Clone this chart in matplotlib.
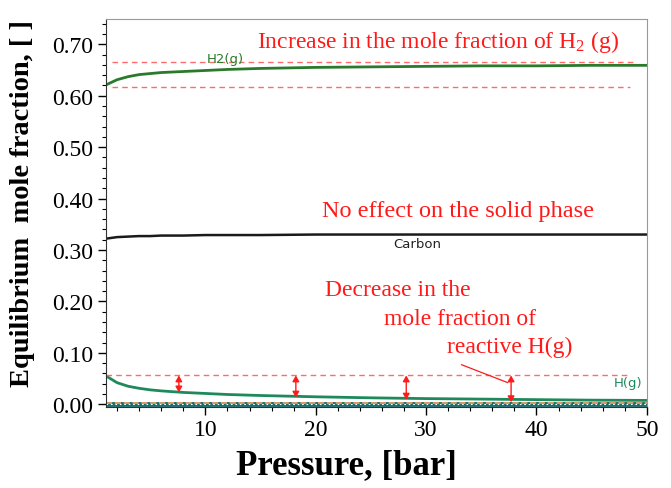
import matplotlib
matplotlib.use("Agg")
import matplotlib.pyplot as plt
from matplotlib.ticker import MultipleLocator, FormatStrFormatter

# datos
presion = [1, 2, 3, 4, 5, 6, 8, 10, 12, 15, 20, 25, 30, 35, 40, 45, 50]
x_h2 = [0.621, 0.631, 0.637, 0.641, 0.643, 0.645, 0.647, 0.649, 0.651, 0.653, 0.655, 0.656, 0.657, 0.658, 0.658, 0.659, 0.659]
x_carbono = [0.322, 0.325, 0.326, 0.327, 0.327, 0.328, 0.328, 0.329, 0.329, 0.329, 0.330, 0.330, 0.330, 0.330, 0.330, 0.330, 0.330]
x_h = [0.055, 0.042, 0.035, 0.031, 0.028, 0.026, 0.023, 0.021, 0.019, 0.017, 0.0145, 0.0125, 0.011, 0.010, 0.009, 0.008, 0.0075]
x_traza1 = [0.0] * len(presion)
x_traza2 = [0.003] * len(presion)

# lineas de referencia (dashed) y flechas
ref_h2_alto, ref_h2_bajo, ref_h = 0.665, 0.617, 0.056
flechas_x = [7.6, 18.2, 28.2, 37.7]
flechas_y = [0.023, 0.013, 0.009, 0.004]

serif = "Liberation Serif"
rojo = "#ff1a1a"
plt.rcParams["mathtext.fontset"] = "custom"
plt.rcParams["mathtext.rm"] = serif
plt.rcParams["mathtext.it"] = serif + ":italic"

fig = plt.figure(figsize=(6.71, 4.89), dpi=100)
ax = fig.add_axes([0.158, 0.166, 0.806, 0.793])

ax.plot(presion, x_traza1, color="#1d6b6b", lw=3.5, solid_capstyle="butt")
ax.plot(presion, x_traza1, color="white", lw=0.8, ls=(0, (1.5, 2.5)))
ax.plot(presion, x_traza2, color="#f4a46a", lw=1.2, ls="--")
ax.plot(presion, x_h2, color="#2b7a2b", lw=2)
ax.plot(presion, x_carbono, color="#1a1a1a", lw=1.8)
ax.plot(presion, x_h, color="#1e8a5c", lw=2)

ax.plot([1.5, 49], [ref_h2_alto] * 2, color="#ff6b6b", lw=1, ls=(0, (4, 3)))
ax.plot([1.5, 48.5], [ref_h2_bajo] * 2, color="#ff6b6b", lw=1, ls=(0, (4, 3)))
ax.plot([1, 48.6], [ref_h] * 2, color="#ff6b6b", lw=1, ls=(0, (4, 3)))

for fx, fy in zip(flechas_x, flechas_y):
    ax.annotate("", xy=(fx, fy), xytext=(fx, ref_h),
                arrowprops=dict(arrowstyle="<|-|>,head_length=0.35,head_width=0.2",
                                color=rojo, lw=1, shrinkA=0, shrinkB=0))

# etiquetas de las curvas
ax.text(11.8, 0.672, "H2(g)", color="#2b7a2b", fontsize=9.5, ha="center", va="center")
ax.text(29.2, 0.313, "Carbon", color="#222222", fontsize=9.5, ha="center", va="center")
ax.text(48.3, 0.043, "H(g)", color="#1e8a5c", fontsize=9.5, ha="center", va="center")

# anotaciones en rojo
ax.text(31.1, 0.706, r"Increase in the mole fraction of H$_2$ (g)", color=rojo,
        fontsize=17, family=serif, ha="center", va="center")
ax.text(32.9, 0.376, "No effect on the solid phase", color=rojo,
        fontsize=17.5, family=serif, ha="center", va="center")
ax.text(20.8, 0.212, "Decrease in the", color=rojo, fontsize=17, family=serif, va="baseline")
ax.text(26.2, 0.157, "mole fraction of", color=rojo, fontsize=17, family=serif, va="baseline")
ax.text(31.9, 0.102, "reactive H(g)", color=rojo, fontsize=17, family=serif, va="baseline")
ax.annotate("", xy=(37.4, 0.042), xytext=(33.2, 0.077),
            arrowprops=dict(arrowstyle="-", color=rojo, lw=0.9, shrinkA=0, shrinkB=0))

ax.set_xlim(1, 50)
ax.set_ylim(-0.005, 0.749)
ax.xaxis.set_major_locator(MultipleLocator(10))
ax.xaxis.set_minor_locator(MultipleLocator(2))
ax.yaxis.set_major_locator(MultipleLocator(0.1))
ax.yaxis.set_minor_locator(MultipleLocator(0.02))
ax.yaxis.set_major_formatter(FormatStrFormatter("%.2f"))
ax.tick_params(which="major", length=6, width=1, labelsize=17, direction="out", pad=3)
ax.tick_params(which="minor", length=3, width=0.8, direction="out")
for lab in ax.get_xticklabels() + ax.get_yticklabels():
    lab.set_family(serif)
ax.spines["top"].set_color("#999999")
ax.spines["right"].set_color("#999999")
ax.spines["left"].set_color("#333333")
ax.spines["bottom"].set_color("#333333")

ax.set_xlabel("Pressure, [bar]", fontsize=25, fontweight="bold", family=serif)
ax.set_ylabel("Equilibrium  mole fraction, [ ]", fontsize=20.5, fontweight="bold", family=serif)
ax.xaxis.set_label_coords(0.444, -0.148)
ax.xaxis.label.set_va("center")
ax.yaxis.set_label_coords(-0.155, 0.526)
ax.yaxis.label.set_va("center")

fig.savefig("out.png", dpi=100)
